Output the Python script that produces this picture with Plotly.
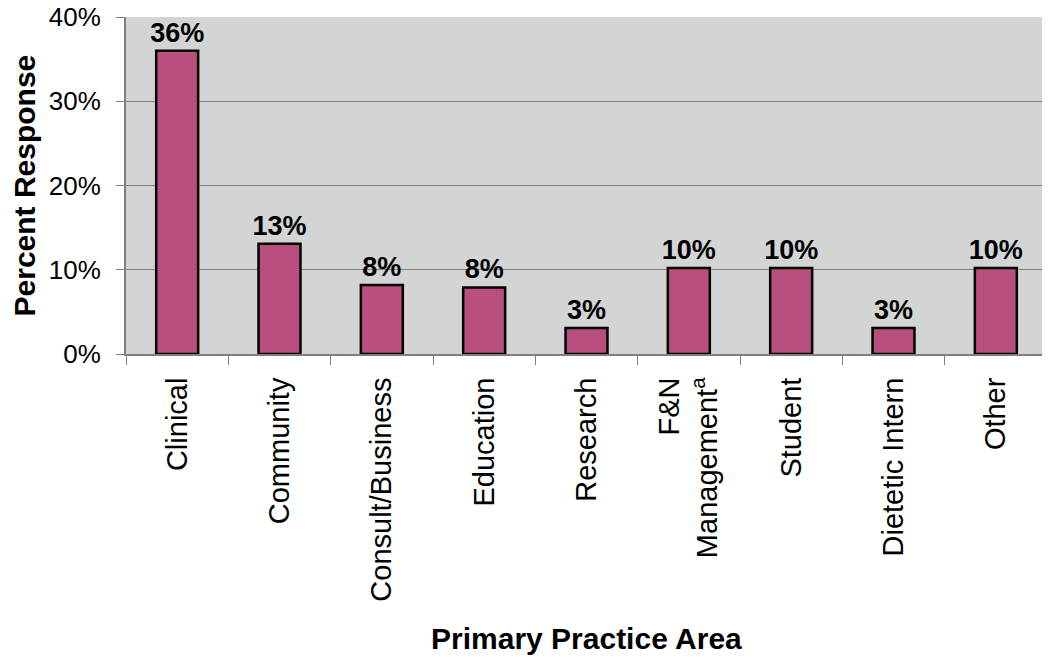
import plotly.graph_objects as go

# Data
areas = [
    "Clinical",
    "Community",
    "Consult/Business",
    "Education",
    "Research",
    "F&N<br>Management<sup>a</sup>",
    "Student",
    "Dietetic Intern",
    "Other",
]
percent = [36, 13.1, 8.2, 7.9, 3.1, 10.2, 10.2, 3.1, 10.2]
labels = ["36%", "13%", "8%", "8%", "3%", "10%", "10%", "3%", "10%"]

FONT = "Liberation Sans, Arial, sans-serif"
BAR_COLOR = "#b84f7e"
PLOT_BG = "#d3d4d4"
AXIS_GREY = "#7f7f7f"

# the page body adds an 8px margin, so the figure is drawn 8px smaller
fig = go.Figure()

fig.add_trace(
    go.Bar(
        x=areas,
        y=percent,
        text=labels,
        textposition="outside",
        constraintext="none",
        textfont=dict(family=FONT, size=27, color="black", weight="bold"),
        cliponaxis=False,
        width=0.41,
        marker=dict(color=BAR_COLOR, line=dict(color="black", width=2.5)),
        showlegend=False,
    )
)

fig.update_layout(
    width=1042,
    height=649,
    margin=dict(l=118, r=3, t=9, b=303),
    paper_bgcolor="white",
    plot_bgcolor=PLOT_BG,
    font=dict(family=FONT, color="black"),
    uniformtext=dict(mode=False),
)

fig.update_yaxes(
    automargin=False,
    range=[0, 40],
    tickvals=[0, 10, 20, 30, 40],
    ticktext=["0%", "10%", "20%", "30%", "40%"],
    tickfont=dict(size=26),
    ticklabeloverflow="allow",
    ticks="outside",
    ticklen=8,
    tickcolor=AXIS_GREY,
    ticklabelstandoff=10,
    showgrid=True,
    gridcolor=AXIS_GREY,
    gridwidth=1,
    showline=True,
    linecolor=AXIS_GREY,
    linewidth=2,
    mirror=True,
    zeroline=False,
)

fig.update_xaxes(
    automargin=False,
    tickangle=-90,
    tickfont=dict(size=29),
    ticks="outside",
    tickson="boundaries",
    ticklen=9,
    tickcolor=AXIS_GREY,
    ticklabelstandoff=10,
    showline=True,
    linecolor=AXIS_GREY,
    linewidth=2,
)

# axis titles placed as annotations to match the reference positions
fig.add_annotation(
    text="Percent Response",
    xref="paper", yref="paper",
    x=-0.1097, y=0.5,
    xanchor="center", yanchor="middle",
    textangle=-90,
    showarrow=False,
    font=dict(size=30, weight="bold"),
)
fig.add_annotation(
    text="Primary Practice Area",
    xref="paper", yref="paper",
    x=0.5005, y=-0.843,
    xanchor="center", yanchor="middle",
    showarrow=False,
    font=dict(size=30, weight="bold"),
)

fig.write_html("out.html")
